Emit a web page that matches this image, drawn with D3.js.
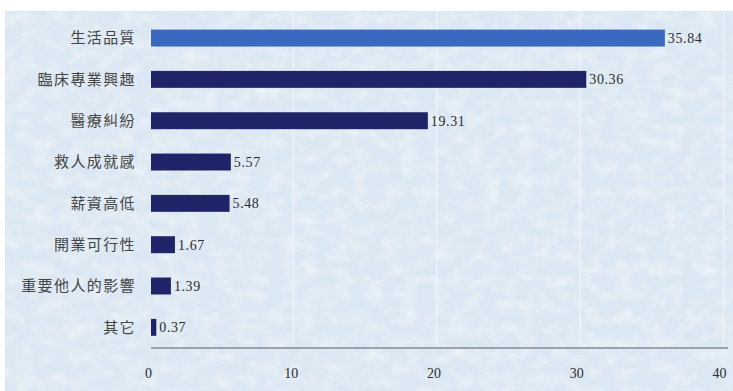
<!DOCTYPE html>
<html>
<head>
<meta charset="utf-8">
<script src="https://cdn.jsdelivr.net/npm/d3@7/dist/d3.min.js"></script>
<style>
  html, body { margin: 0; padding: 0; background: #ffffff; }
  svg { display: block; }
</style>
</head>
<body>
<svg id="chart" width="733" height="391"></svg>
<script>
// Factors and their shares (%)
const categories = ["生活品質", "臨床專業興趣", "醫療糾紛", "救人成就感", "薪資高低", "開業可行性", "重要他人的影響", "其它"];
const values = [35.84, 30.36, 19.31, 5.57, 5.48, 1.67, 1.39, 0.37];
const valueLabels = ["35.84", "30.36", "19.31", "5.57", "5.48", "1.67", "1.39", "0.37"];
const tickValues = [0, 10, 20, 30, 40];

const W = 733, H = 391;
const svg = d3.select("#chart");

// Textured light-blue panel
const defs = svg.append("defs");
const f = defs.append("filter").attr("id", "paper")
  .attr("x", 0).attr("y", 0).attr("width", "100%").attr("height", "100%");
f.append("feTurbulence").attr("type", "fractalNoise")
  .attr("baseFrequency", "0.06 0.08").attr("numOctaves", 3).attr("seed", 11).attr("result", "n");
f.append("feColorMatrix").attr("in", "n").attr("type", "matrix")
  .attr("values", "0 0 0 0 1  0 0 0 0 1  0 0 0 0 1  1.8 0 0 0 -0.7");

const panel = { x: 5, y: 11, w: W - 5, h: H - 11 };
svg.append("rect").attr("x", panel.x).attr("y", panel.y)
  .attr("width", panel.w).attr("height", panel.h).attr("fill", "#dbe7f2");
svg.append("rect").attr("x", panel.x).attr("y", panel.y)
  .attr("width", panel.w).attr("height", panel.h)
  .attr("filter", "url(#paper)").attr("opacity", 0.5);

// Scales
const x = d3.scaleLinear().domain([0, 40]).range([151, 724.5]);
const y = d3.scaleBand().domain(categories).range([17.4, 348])
  .paddingInner(0.59).paddingOuter(0.295);

// Faint vertical guides at the ticks
svg.append("g").selectAll("line")
  .data(tickValues.slice(1))
  .join("line")
  .attr("x1", d => x(d) - 1).attr("x2", d => x(d) - 1)
  .attr("y1", panel.y).attr("y2", 346)
  .attr("stroke", "#f0f5fb").attr("stroke-width", 2).attr("opacity", 0.7);

// Bars
svg.append("g").selectAll("rect")
  .data(values)
  .join("rect")
  .attr("x", x(0))
  .attr("y", (d, i) => y(categories[i]))
  .attr("width", d => x(d) - x(0))
  .attr("height", y.bandwidth())
  .attr("fill", (d, i) => i === 0 ? "#3b69c2" : "#1e2467");

// Value labels
svg.append("g").selectAll("text")
  .data(values)
  .join("text")
  .attr("x", d => x(d) + 3)
  .attr("y", (d, i) => y(categories[i]) + y.bandwidth() / 2)
  .attr("dy", "0.35em")
  .attr("font-family", "'Liberation Serif', serif")
  .attr("font-size", 14)
  .attr("letter-spacing", 0.6)
  .attr("fill", "#2c2c2c")
  .text((d, i) => valueLabels[i]);

// Category labels
svg.append("g").selectAll("text")
  .data(categories)
  .join("text")
  .attr("x", 136)
  .attr("y", d => y(d) + y.bandwidth() / 2)
  .attr("dy", "0.36em")
  .attr("text-anchor", "end")
  .attr("font-family", "'Noto Sans CJK TC', sans-serif")
  .attr("font-size", 15)
  .attr("letter-spacing", 1.4)
  .attr("fill", "#444444")
  .text(d => d);

// Bottom axis
const axis = d3.axisBottom(x).tickValues(tickValues).tickSize(0).tickPadding(20)
  .tickFormat(d3.format("d"));
const ag = svg.append("g").attr("transform", "translate(0,348)").call(axis);
ag.select(".domain").attr("stroke", "#9aa3ad").attr("stroke-width", 2)
  .attr("d", `M${x(0)},0H728`);
ag.selectAll("text")
  .attr("font-family", "'Liberation Serif', serif")
  .attr("font-size", 14)
  .attr("fill", "#2c2c2c")
  .attr("dx", (d, i) => -3 - i * 0.6);
</script>
</body>
</html>
